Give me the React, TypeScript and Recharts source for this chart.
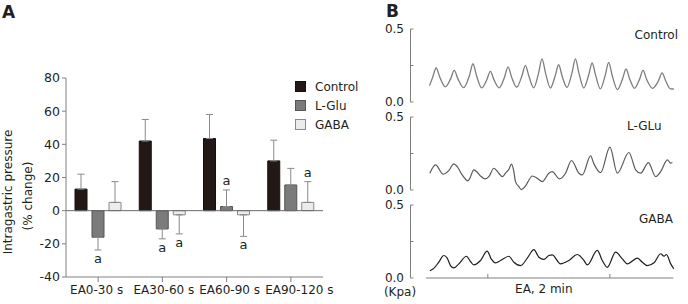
import React from 'react';
import {
  BarChart, Bar, XAxis, YAxis, ErrorBar, LabelList, Legend, ReferenceLine,
  LineChart, Line,
} from 'recharts';

// ---------- Panel A data ----------
const categories = ['EA0-30 s', 'EA30-60 s', 'EA60-90 s', 'EA90-120 s'];
const controlMean = [13, 42, 43.5, 30];
const controlErr = [9, 13, 14.5, 12.5];
const gluMean = [-16, -11, 2.5, 15.5];
const gluErr = [7.7, 6, 10, 10];
const gabaMean = [5, -2.5, -2.5, 5];
const gabaErr = [12.5, 11.5, 13, 12.5];
const controlSig = ['', '', '', ''];
const gluSig = ['a', 'a', 'a', ''];
const gabaSig = ['', 'a', 'a', 'a'];
const yTicksA = [-40, -20, 0, 20, 40, 60, 80];

// ---------- Panel B data (time s, pressure kPa) ----------
const controlTrace: [number, number][] = [
  [-57.3, 0.112], [-54.2, 0.17], [-50.7, 0.233], [-47.2, 0.17], [-41.8, 0.104],
  [-36.5, 0.16], [-33.0, 0.216], [-29.5, 0.16], [-23.8, 0.098],
  [-18.1, 0.18], [-14.6, 0.262], [-11.1, 0.18], [-6.0, 0.097],
  [-1.0, 0.153], [2.5, 0.21], [6.0, 0.153], [11.2, 0.097],
  [16.4, 0.17], [19.9, 0.24], [23.4, 0.17], [28.4, 0.102],
  [33.4, 0.176], [36.9, 0.251], [40.4, 0.176], [45.1, 0.097],
  [49.8, 0.196], [53.3, 0.295], [56.8, 0.196], [61.5, 0.096],
  [66.1, 0.176], [69.6, 0.255], [73.1, 0.176], [77.8, 0.1],
  [82.6, 0.196], [86.1, 0.295], [89.6, 0.196], [94.3, 0.096],
  [99.0, 0.182], [102.5, 0.267], [106.0, 0.182], [110.6, 0.09],
  [115.3, 0.18], [118.8, 0.271], [122.3, 0.18], [127.4, 0.085],
  [132.4, 0.158], [135.9, 0.226], [139.4, 0.158], [144.2, 0.094],
  [149.1, 0.155], [152.6, 0.216], [156.1, 0.155], [162.0, 0.094],
  [167.8, 0.146], [171.3, 0.199], [174.8, 0.146], [179.5, 0.09], [182.8, 0.089],
];
const gluTrace: [number, number][] = [
  [-57.0, 0.115], [-51.4, 0.172], [-43.9, 0.108], [-38.4, 0.133], [-33.4, 0.179],
  [-30.1, 0.16], [-25.2, 0.103], [-21.9, 0.074], [-19.7, 0.062], [-17.7, 0.08],
  [-13.8, 0.138], [-10.4, 0.122], [-7.2, 0.096], [-2.3, 0.076], [1.0, 0.091],
  [5.9, 0.149], [10.8, 0.115], [14.2, 0.091], [17.4, 0.115], [20.7, 0.142],
  [23.3, 0.177], [25.6, 0.126], [27.2, 0.057], [30.5, 0.023], [32.9, 0.003],
  [37.1, 0.028], [43.7, 0.096], [48.6, 0.08], [53.5, 0.057], [60.0, 0.115],
  [63.3, 0.126], [70.5, 0.076], [76.4, 0.115], [82.3, 0.202], [89.5, 0.115],
  [92.9, 0.103], [101.0, 0.234], [104.3, 0.179], [110.9, 0.119], [120.0, 0.294],
  [127.3, 0.115], [138.7, 0.257], [145.3, 0.138], [150.2, 0.115], [157.8, 0.188],
  [165.0, 0.091], [169.9, 0.126], [176.5, 0.206], [179.7, 0.184], [181.4, 0.188],
];
const gabaTrace: [number, number][] = [
  [-57.0, 0.05], [-53.1, 0.066], [-48.2, 0.108], [-43.3, 0.154], [-39.9, 0.136],
  [-36.7, 0.085], [-33.4, 0.069], [-28.5, 0.097], [-21.0, 0.149], [-17.0, 0.113],
  [-13.8, 0.09], [-7.2, 0.12], [-0.6, 0.184], [3.3, 0.131], [7.6, 0.104],
  [12.5, 0.12], [20.7, 0.149], [25.6, 0.108], [32.2, 0.085], [38.8, 0.136],
  [45.3, 0.194], [50.2, 0.142], [55.1, 0.127], [60.0, 0.154], [63.3, 0.159],
  [71.5, 0.097], [79.7, 0.12], [88.0, 0.161], [94.4, 0.12], [97.8, 0.09],
  [107.6, 0.189], [112.5, 0.12], [117.4, 0.073], [125.6, 0.177], [132.2, 0.131],
  [137.1, 0.097], [147.0, 0.136], [151.9, 0.108], [156.8, 0.085], [163.4, 0.104],
  [169.9, 0.166], [173.2, 0.149], [175.5, 0.161], [179.8, 0.097], [183.0, 0.062],
];
const traceNames = ['Control', 'L-GLu', 'GABA'];
const yTicksB = [0, 0.25, 0.5];
const xTicksB = [0, 120];

const FONT = '"DejaVu Sans", Verdana, sans-serif';
const TXT = '#231f20';
const AX = '#808080';
const TICK_NUDGE = [-1.5, 1.5, 3, 8.5];

const oneSided = (m: number, e: number) => (m >= 0 ? [0, e] : [e, 0]);

const barData = categories.map((c, i) => ({
  name: c,
  control: controlMean[i],
  controlE: oneSided(controlMean[i], controlErr[i]),
  controlS: controlSig[i],
  glu: gluMean[i],
  gluE: oneSided(gluMean[i], gluErr[i]),
  gluS: gluSig[i],
  gaba: gabaMean[i],
  gabaE: oneSided(gabaMean[i], gabaErr[i]),
  gabaS: gabaSig[i],
}));

const series = [
  { key: 'control', name: 'Control', fill: '#231815', stroke: '#111111', mean: controlMean, err: controlErr },
  { key: 'glu', name: 'L-Glu', fill: '#7b7b7b', stroke: '#555555', mean: gluMean, err: gluErr },
  { key: 'gaba', name: 'GABA', fill: '#ececec', stroke: '#8a8a8a', mean: gabaMean, err: gabaErr },
];

const makeSig = (mean: number[], err: number[]) => (props: any) => {
  const vb = props.viewBox || props;
  const x = Number(vb.x ?? props.x);
  const y = Number(vb.y ?? props.y);
  const w = Number(vb.width ?? props.width);
  const h = Number(vb.height ?? props.height);
  const idx = props.index;
  const v = props.value;
  if (!v || idx == null) return null;
  const m = mean[idx];
  const sign = m >= 0 ? 1 : -1;
  const ppu = Math.abs(h) / Math.abs(m);
  const yVal = m >= 0 ? Math.min(y, y + h) : Math.max(y, y + h);
  const end = yVal - sign * err[idx] * ppu;
  const ly = end - sign * 9;
  return (
    <text x={x + w / 2} y={ly + 4} textAnchor="middle" fontSize={13} fontFamily={FONT} fill={TXT}>
      {v}
    </text>
  );
};

const CatTick = (props: any) => {
  const { x, y, payload, index } = props;
  return (
    <text x={x + (TICK_NUDGE[index] || 0)} y={y + 10} textAnchor="middle" fontSize={12} fontFamily={FONT} fill={TXT}>
      {payload.value}
    </text>
  );
};

const LegendContent = () => (
  <div style={{ fontFamily: FONT, fontSize: 12, color: TXT }}>
    {series.map((s) => (
      <div key={s.key} style={{ display: 'flex', alignItems: 'center', height: 19 }}>
        <div style={{ width: 11, height: 11, background: s.fill, border: `1px solid ${s.stroke}`, boxSizing: 'border-box', marginRight: 9 }} />
        <span>{s.name}</span>
      </div>
    ))}
  </div>
);

const YLabelA = () => (
  <g>
    <text transform="translate(11.5,192) rotate(-90)" textAnchor="middle" fontSize={12} fontFamily={FONT} fill={TXT}>
      Intragastric pressure
    </text>
    <text transform="translate(31.5,196) rotate(-90)" textAnchor="middle" fontSize={12} fontFamily={FONT} fill={TXT}>
      (% change)
    </text>
  </g>
);

const toRows = (tr: [number, number][]) => tr.map(([t, v]) => ({ t, v }));

const TraceChart = ({ data, color, width, top, height, bottomAxis }: any) => (
  <div style={{ position: 'absolute', left: 370, top }}>
    <LineChart width={318} height={height} data={data}
      margin={{ top: 29, right: 14, left: 0, bottom: bottomAxis ? 6 : 8 }}>
      <XAxis type="number" dataKey="t" domain={[-76, 183]} allowDataOverflow
        hide={!bottomAxis} ticks={xTicksB} tickSize={-4} tickFormatter={() => ''}
        axisLine={false} tickLine={{ stroke: AX }} height={20} />
      <YAxis type="number" domain={[0, 0.5]} ticks={yTicksB} width={40.5}
        tickSize={-3} tickMargin={9.5}
        tickFormatter={(v: number) => (v === 0.25 ? '' : v.toFixed(1))}
        tick={{ fontSize: 12, fontFamily: FONT, fill: TXT }}
        axisLine={{ stroke: AX }} tickLine={{ stroke: AX }} />
      {bottomAxis && (
        <ReferenceLine segment={[{ x: -60.7, y: 0 }, { x: 182.3, y: 0 }]} stroke={AX} ifOverflow="visible" />
      )}
      <Line type="monotone" dataKey="v" stroke={color} strokeWidth={width} dot={false} isAnimationActive={false} />
    </LineChart>
  </div>
);

export default function App() {
  return (
    <div style={{ position: 'absolute', left: 0, top: 0, width: 688, height: 304, background: '#fff', overflow: 'hidden' }}>
      <div style={{ position: 'absolute', left: 0, top: 0 }}>
        <BarChart width={345} height={304} data={barData} barSize={12} barGap={5}
          margin={{ top: 78, right: 22, left: 6, bottom: 7 }}>
          <XAxis dataKey="name" interval={0} height={20} tickSize={5}
            tick={<CatTick />}
            axisLine={{ stroke: AX }} tickLine={{ stroke: AX }} />
          <YAxis type="number" domain={[-40, 80]} ticks={yTicksA} width={60} tickSize={4} tickMargin={2}
            tick={{ fontSize: 12.5, fontFamily: FONT, fill: TXT }}
            axisLine={{ stroke: AX }} tickLine={{ stroke: AX }}
            label={{ content: () => <YLabelA /> }} />
          <ReferenceLine y={0} stroke="#6a6a6a" />
          <Legend layout="vertical" align="center" verticalAlign="middle"
            content={() => <LegendContent />}
            wrapperStyle={{ position: 'absolute', top: 77, left: 295, width: 70, height: 60 }} />
          {series.map((s) => (
            <Bar key={s.key} dataKey={s.key} name={s.name} fill={s.fill} stroke={s.stroke}
              strokeWidth={1} isAnimationActive={false}>
              <ErrorBar dataKey={`${s.key}E`} width={3.5} stroke="#8a8a8a" strokeWidth={1} direction="y" />
              <LabelList dataKey={`${s.key}S`} content={makeSig(s.mean, s.err)} />
            </Bar>
          ))}
        </BarChart>
      </div>

      <TraceChart data={toRows(controlTrace)} color="#7d7d7d" width={1.3} top={0} height={110} bottomAxis={false} />
      <TraceChart data={toRows(gluTrace)} color="#5a5a5a" width={1.2} top={88} height={110} bottomAxis={false} />
      <TraceChart data={toRows(gabaTrace)} color="#1e1e1e" width={1.2} top={176} height={128} bottomAxis={true} />

      <svg width={688} height={304} style={{ position: 'absolute', left: 0, top: 0, pointerEvents: 'none' }}>
        <text x={2} y={18.3} fontSize={17} fontWeight="bold" fontFamily={FONT} fill={TXT}>A</text>
        <text x={386} y={16.7} fontSize={17} fontWeight="bold" fontFamily={FONT} fill={TXT}>B</text>
        <text x={678} y={39} textAnchor="end" fontSize={12} fontFamily={FONT} fill={TXT}>{traceNames[0]}</text>
        <text x={661.7} y={130} textAnchor="end" fontSize={12} fontFamily={FONT} fill={TXT}>{traceNames[1]}</text>
        <text x={673} y={223} textAnchor="end" fontSize={12} fontFamily={FONT} fill={TXT}>{traceNames[2]}</text>
        <text x={400} y={296} textAnchor="middle" fontSize={12} fontFamily={FONT} fill={TXT}>(Kpa)</text>
        <text x={543.8} y={293} textAnchor="middle" fontSize={12} fontFamily={FONT} fill={TXT}>EA, 2 min</text>
      </svg>
    </div>
  );
}
